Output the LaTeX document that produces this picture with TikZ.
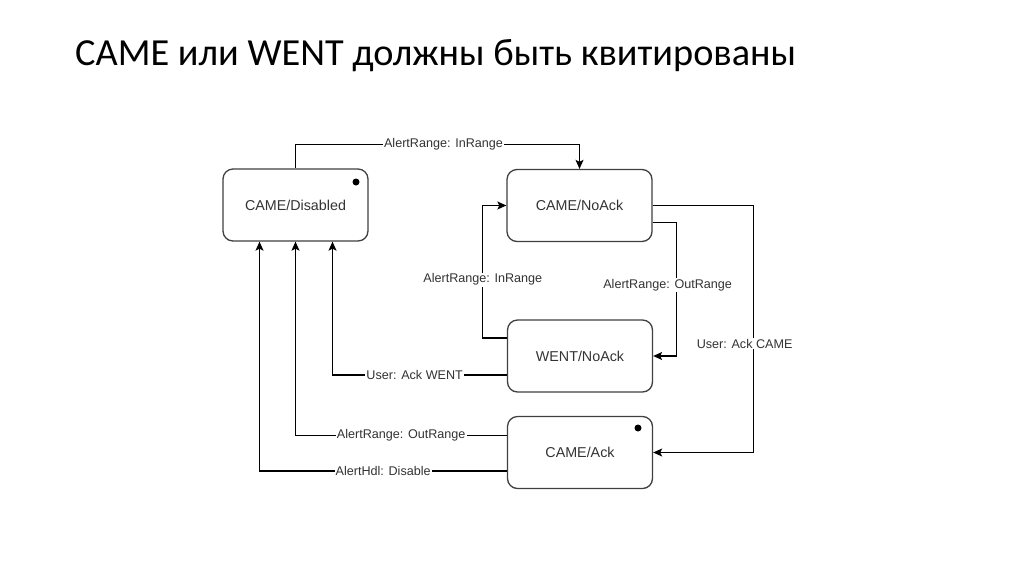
\documentclass[tikz,border=0pt]{standalone}
\usepackage{fontspec}
\setmainfont{Liberation Sans}
\newfontfamily\titlefont{Carlito}
\usetikzlibrary{arrows.meta,calc}
\begin{document}
\begin{tikzpicture}[x=1pt,y=-1pt,
  state/.style={draw=black!75,line width=1.3pt,rounded corners=10pt,fill=white,
    minimum width=145pt,minimum height=72pt,font=\fontsize{14.3}{16}\selectfont,text=black!80,inner sep=0pt},
  arr/.style={draw=black,line width=1.2pt,-{Stealth[length=9pt,width=8pt,inset=2pt]}},
  lab/.style={fill=white,inner sep=1pt,font=\fontsize{12.6}{14}\selectfont,text=black!80},
  dot/.style={circle,fill=black,inner sep=0pt,minimum size=7pt}]
\useasboundingbox[fill=white] (0,0) rectangle (1024,574);
\node[anchor=base west,font=\titlefont\fontsize{38.3}{44}\selectfont,inner sep=0pt] (title) at (75,65) {CAME или WENT должны быть квитированы};
\node[state] (dis) at (295.5,205) {CAME/Disabled};
\node[state] (noack) at (579.5,205.5) {CAME/NoAck};
\node[state] (went) at (580,356) {WENT/NoAck};
\node[state] (ack) at (580,452.5) {CAME/Ack};
\node[dot] (d1) at (356,182) {};
\node[dot] (d2) at (638,428) {};
% Disabled -> NoAck
\draw[arr] (dis.north) -- ++(0,-24) -| node[lab,pos=0.25,xshift=6]{AlertRange: InRange} (noack.north);
% WENT -> NoAck
\draw[arr] ($(went.west)+(0,-18)$) -- ++(-24,0) |- node[lab,pos=0.22]{AlertRange: InRange} (noack.west);
% NoAck -> WENT
\draw[arr] ($(noack.east)+(0,17)$) -- ++(24,0) |- node[lab,pos=0.234,xshift=-9]{AlertRange: OutRange} (went.east);
% NoAck -> Ack
\draw[arr] (noack.east) -- ++(101,0) |- node[lab,pos=0.28,xshift=-9]{User: Ack CAME} (ack.east);
% WENT -> Disabled
\draw[arr] ($(went.west)+(0,19)$) -| node[lab,pos=0.25,xshift=-5]{User: Ack WENT} ($(dis.south)+(37,0)$);
% Ack -> Disabled
\draw[arr] ($(ack.west)+(0,-17)$) -| node[lab,pos=0.25]{AlertRange: OutRange} (dis.south);
\draw[arr] ($(ack.west)+(0,18.5)$) -| node[lab,pos=0.25]{AlertHdl: Disable} ($(dis.south)+(-36,0)$);
\end{tikzpicture}
\end{document}
